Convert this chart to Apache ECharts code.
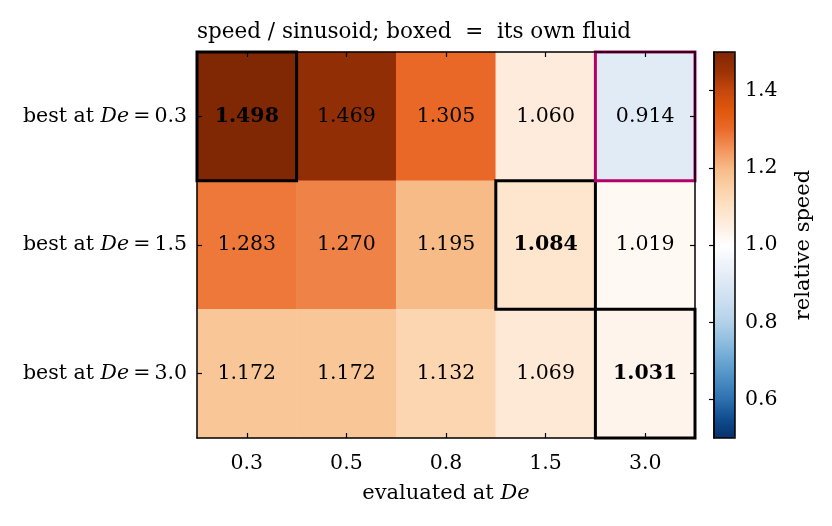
<!DOCTYPE html>
<html>
<head>
<meta charset="utf-8">
<script src="https://cdn.jsdelivr.net/npm/echarts@6/dist/echarts.min.js"></script>
<style>
  html, body { margin: 0; padding: 0; background: #fff; }
  #chart { width: 832px; height: 526px; }
</style>
</head>
<body>
<div id="chart"></div>
<script>
// evaluated-at De (columns) and best-at De (rows)
const evalDe = ['0.3', '0.5', '0.8', '1.5', '3.0']
const bestDe = ['0.3', '1.5', '3.0']

// relative speed, one array per row
const speedBest03 = [1.498, 1.469, 1.305, 1.060, 0.914]
const speedBest15 = [1.283, 1.270, 1.195, 1.084, 1.019]
const speedBest30 = [1.172, 1.172, 1.132, 1.069, 1.031]

// [col, row] cells
const ownFluid = [[0, 0], [3, 1], [4, 2]]
const flagged = [[4, 0]]

const cbTicks = [0.6, 0.8, 1.0, 1.2, 1.4]

const font = 'DejaVu Serif'
const fs = 20.5
const rows = [speedBest03, speedBest15, speedBest30]

const isOwn = (c, r) => ownFluid.some(p => p[0] === c && p[1] === r)

const cells = []
rows.forEach((vals, r) => {
    vals.forEach((v, c) => {
        cells.push({
            value: [c, r, v],
            label: { fontWeight: isOwn(c, r) ? 'bold' : 'normal' }
        })
    })
})

// blue -> white -> orange, stops every 0.05 from 0.5 to 1.5
const cmap = [
    '#08306b', '#0f4d8f', '#2e70b0', '#4a8cc2', '#6aa6d3', '#8fbddf',
    '#b3d1e8', '#c9ddef', '#dce8f4', '#eef3fa', '#ffffff',
    '#feeee0', '#fde1c5', '#fbd0a6', '#f7b985', '#f2925a',
    '#ea6a2a', '#e0560c', '#c4470e', '#9c3205', '#7f2704'
]

const boxRender = color => (params, api) => {
    const c = api.coord([api.value(0), api.value(1)])
    const s = api.size([1, 1])
    return {
        type: 'rect',
        shape: { x: c[0] - s[0] / 2, y: c[1] - s[1] / 2, width: s[0], height: s[1] },
        style: { fill: 'none', stroke: color, lineWidth: 3 }
    }
}

const tickStyle = { show: true, inside: true, length: 5, alignWithLabel: true, lineStyle: { color: '#000', width: 1.2 } }
const lineStyle = { show: true, lineStyle: { color: '#000', width: 1.5 } }

const chart = echarts.init(document.getElementById('chart'))

chart.setOption({
    animation: false,
    backgroundColor: '#fff',
    textStyle: { fontFamily: font },
    title: {
        text: 'speed / sinusoid; boxed  =  its own fluid',
        left: 192,
        top: 16,
        textStyle: { fontFamily: font, fontSize: 21.5, fontWeight: 'normal', color: '#000' }
    },
    grid: [
        { left: 197, right: 137, top: 52, bottom: 88 },
        { left: 714, top: 52, width: 21, height: 386, show: true, borderColor: '#000', borderWidth: 1.5, z: 10 }
    ],
    visualMap: {
        type: 'continuous',
        seriesIndex: 0,
        min: 0.5,
        max: 1.5,
        left: 714,
        top: 52,
        padding: 0,
        itemWidth: 21,
        itemHeight: 386,
        calculable: false,
        inRange: { color: cmap }
    },
    xAxis: [
        {
            type: 'category', data: evalDe, gridIndex: 0, position: 'bottom', z: 5,
            axisLine: lineStyle, axisTick: tickStyle,
            axisLabel: { color: '#000', fontSize: fs, fontFamily: font, margin: 15 },
            name: '{t|evaluated at }{i|De}',
            nameLocation: 'middle',
            nameGap: 45,
            nameTextStyle: {
                rich: {
                    t: { fontFamily: font, fontSize: 21, color: '#000' },
                    i: { fontFamily: font, fontSize: 21, fontStyle: 'italic', color: '#000' }
                }
            }
        },
        {
            type: 'category', data: evalDe, gridIndex: 0, position: 'top', z: 5,
            axisLine: lineStyle, axisTick: tickStyle, axisLabel: { show: false }
        },
        { type: 'value', gridIndex: 1, show: false, min: 0, max: 1 }
    ],
    yAxis: [
        {
            type: 'category', data: bestDe, gridIndex: 0, inverse: true, position: 'left', z: 5,
            axisLine: lineStyle, axisTick: tickStyle,
            axisLabel: {
                margin: 10,
                formatter: v => '{t|best at }{i|De}{t|\u2009=\u2009' + v + '}',
                rich: {
                    t: { fontFamily: font, fontSize: fs, color: '#000' },
                    i: { fontFamily: font, fontSize: fs, fontStyle: 'italic', color: '#000' }
                }
            }
        },
        {
            type: 'category', data: bestDe, gridIndex: 0, inverse: true, position: 'right', z: 5,
            axisLine: lineStyle, axisTick: tickStyle, axisLabel: { show: false }
        },
        {
            type: 'value', gridIndex: 1, min: 0.5, max: 1.5, position: 'right', z: 10,
            axisLine: lineStyle,
            splitLine: { show: false },
            axisTick: { show: true, inside: true, length: 5, customValues: cbTicks, lineStyle: { color: '#000', width: 1.2 } },
            axisLabel: {
                customValues: cbTicks, color: '#000', fontSize: fs, fontFamily: font, margin: 10,
                formatter: v => v.toFixed(1)
            },
            name: 'relative speed',
            nameLocation: 'middle',
            nameRotate: 90,
            nameGap: 58,
            nameTextStyle: { fontFamily: font, fontSize: 21, color: '#000' }
        }
    ],
    series: [
        {
            type: 'heatmap',
            xAxisIndex: 0,
            yAxisIndex: 0,
            data: cells,
            itemStyle: { borderWidth: 0 },
            label: {
                show: true,
                color: '#000',
                fontFamily: font,
                fontSize: fs,
                formatter: p => p.value[2].toFixed(3)
            },
            emphasis: { disabled: true }
        },
        {
            type: 'custom',
            xAxisIndex: 0,
            yAxisIndex: 0,
            z: 4,
            renderItem: boxRender('#000'),
            data: ownFluid
        },
        {
            type: 'custom',
            xAxisIndex: 0,
            yAxisIndex: 0,
            z: 4,
            renderItem: boxRender('#b4006a'),
            data: flagged
        }
    ]
})
</script>
</body>
</html>
